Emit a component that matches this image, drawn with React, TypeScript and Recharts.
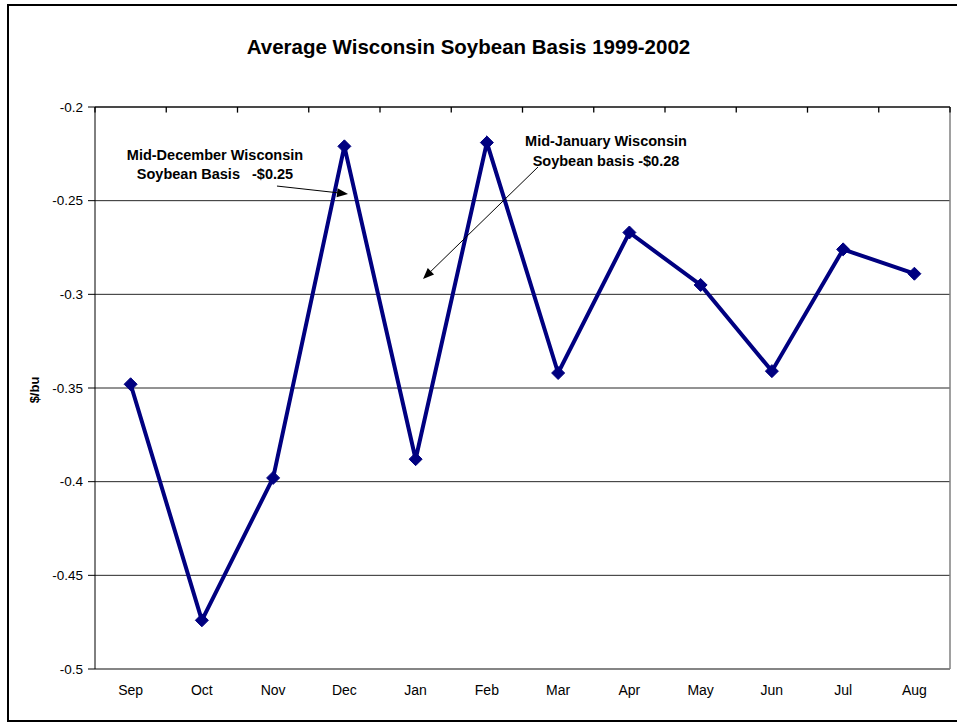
import React from 'react';
import { LineChart, Line, XAxis, YAxis, CartesianGrid, ReferenceLine, ReferenceDot } from 'recharts';

// months, Sep 1999 .. Aug 2002 averages
const months = ['Sep', 'Oct', 'Nov', 'Dec', 'Jan', 'Feb', 'Mar', 'Apr', 'May', 'Jun', 'Jul', 'Aug'];
const basis = [-0.348, -0.474, -0.398, -0.221, -0.388, -0.219, -0.342, -0.267, -0.295, -0.341, -0.276, -0.289];
const yTicks = [-0.5, -0.45, -0.4, -0.35, -0.3, -0.25, -0.2];
const boundaryTicks = [0, 1, 2, 3, 4, 5, 6, 7, 8, 9, 10, 11, 12];
const centerTicks = months.map((_, i) => i + 0.5);

// annotation notes, placed in data units
const decNote = ['Mid-December Wisconsin', 'Soybean Basis   -$0.25'];
const janNote = ['Mid-January Wisconsin', 'Soybean basis -$0.28'];

const data = months.map((m, i) => ({ pos: i + 0.5, month: m, basis: basis[i] }));

const NAVY = '#000080';
const FONT = 'Arial, "Liberation Sans", Helvetica, sans-serif';
const TOP = -0.2;
const TICK_LEN = 0.003; // category axis crosses at the top, tick marks point down

const Diamond = (props: any) => {
  const { cx, cy } = props;
  if (cx == null || cy == null) return null;
  const r = 6.5;
  return <polygon points={`${cx},${cy - r} ${cx + r},${cy} ${cx},${cy + r} ${cx - r},${cy}`} fill={NAVY} stroke={NAVY} />;
};

const Arrow = (props: any) => {
  const { x1, y1, x2, y2 } = props;
  const ang = Math.atan2(y2 - y1, x2 - x1);
  const len = 11;
  const w = 4.5;
  const bx = x2 - len * Math.cos(ang);
  const by = y2 - len * Math.sin(ang);
  const px = -Math.sin(ang) * w;
  const py = Math.cos(ang) * w;
  return (
    <g>
      <line x1={x1} y1={y1} x2={bx} y2={by} stroke="#000" strokeWidth={1} />
      <polygon points={`${x2},${y2} ${bx + px},${by + py} ${bx - px},${by - py}`} fill="#000" />
    </g>
  );
};

const noteText = (text: string) => (props: any) => (
  <text x={props.cx} y={props.cy} textAnchor="middle" dominantBaseline="central" style={{ whiteSpace: 'pre' }}
    fontFamily={FONT} fontWeight="bold" fontSize={14.5} fill="#000">{text}</text>
);

export default function App() {
  return (
    <div style={{ position: 'absolute', left: 0, top: 0, width: 957, height: 723, overflow: 'hidden', background: '#fff', fontFamily: FONT }}>
      <div style={{ position: 'absolute', left: 7, top: 4, width: 970, height: 718, boxSizing: 'border-box', border: '2px solid #000' }} />
      <div style={{ position: 'absolute', left: 0, top: 35, width: 937, textAlign: 'center', fontWeight: 'bold', fontSize: 20.5, color: '#000' }}>
        Average Wisconsin Soybean Basis 1999-2002
      </div>
      <div style={{ position: 'absolute', left: 34, top: 390, transform: 'translate(-50%, -50%) rotate(-90deg)', fontWeight: 'bold', fontSize: 13, color: '#000', whiteSpace: 'nowrap' }}>
        $/bu
      </div>
      <div style={{ position: 'absolute', left: 0, top: 0 }}>
        <LineChart width={957} height={723} data={data} margin={{ top: 107, right: 7, bottom: 0, left: 35 }}>
          <CartesianGrid vertical={false} horizontal stroke="#000" strokeOpacity={0.85} horizontalValues={yTicks} />
          <ReferenceLine xAxisId="bottom" y={-0.5} stroke="#808080" strokeWidth={1.5} />
          <ReferenceLine xAxisId="bottom" x={12} stroke="#808080" strokeWidth={1.5} />
          <ReferenceLine xAxisId="bottom" y={TOP} stroke="#000" strokeWidth={1.2} />
          {boundaryTicks.map((b) => (
            <ReferenceLine key={b} xAxisId="bottom" segment={[{ x: b, y: TOP }, { x: b, y: TOP - TICK_LEN }]}
              stroke="#000" strokeWidth={1.3} ifOverflow="visible" />
          ))}
          <XAxis xAxisId="bottom" dataKey="pos" type="number" domain={[0, 12]} ticks={centerTicks}
            tickFormatter={(v: number) => months[Math.floor(v)]} axisLine={false} tickLine={false}
            tickMargin={10} interval={0} tick={{ fill: '#000', fontSize: 14, fontFamily: FONT }} height={54} />
          <YAxis domain={[-0.5, -0.2]} ticks={yTicks} interval={0} width={60} tickSize={7} tickMargin={5}
            axisLine={{ stroke: '#000' }} tickLine={{ stroke: '#000' }} allowDataOverflow
            tick={{ fill: '#000', fontSize: 13.5, fontFamily: FONT }} tickFormatter={(v: number) => String(v)} />
          <Line xAxisId="bottom" type="linear" dataKey="basis" stroke={NAVY} strokeWidth={4}
            dot={<Diamond />} activeDot={false} isAnimationActive={false} />
          <ReferenceLine xAxisId="bottom" segment={[{ x: 2.554, y: -0.2422 }, { x: 3.551, y: -0.2464 }]} shape={Arrow} ifOverflow="visible" />
          <ReferenceLine xAxisId="bottom" segment={[{ x: 6.218, y: -0.232 }, { x: 4.604, y: -0.2918 }]} shape={Arrow} ifOverflow="visible" />
          <ReferenceDot xAxisId="bottom" x={1.684} y={-0.2256} shape={noteText(decNote[0])} ifOverflow="visible" />
          <ReferenceDot xAxisId="bottom" x={1.684} y={-0.2358} shape={noteText(decNote[1])} ifOverflow="visible" />
          <ReferenceDot xAxisId="bottom" x={7.172} y={-0.2181} shape={noteText(janNote[0])} ifOverflow="visible" />
          <ReferenceDot xAxisId="bottom" x={7.172} y={-0.2288} shape={noteText(janNote[1])} ifOverflow="visible" />
        </LineChart>
      </div>
    </div>
  );
}
